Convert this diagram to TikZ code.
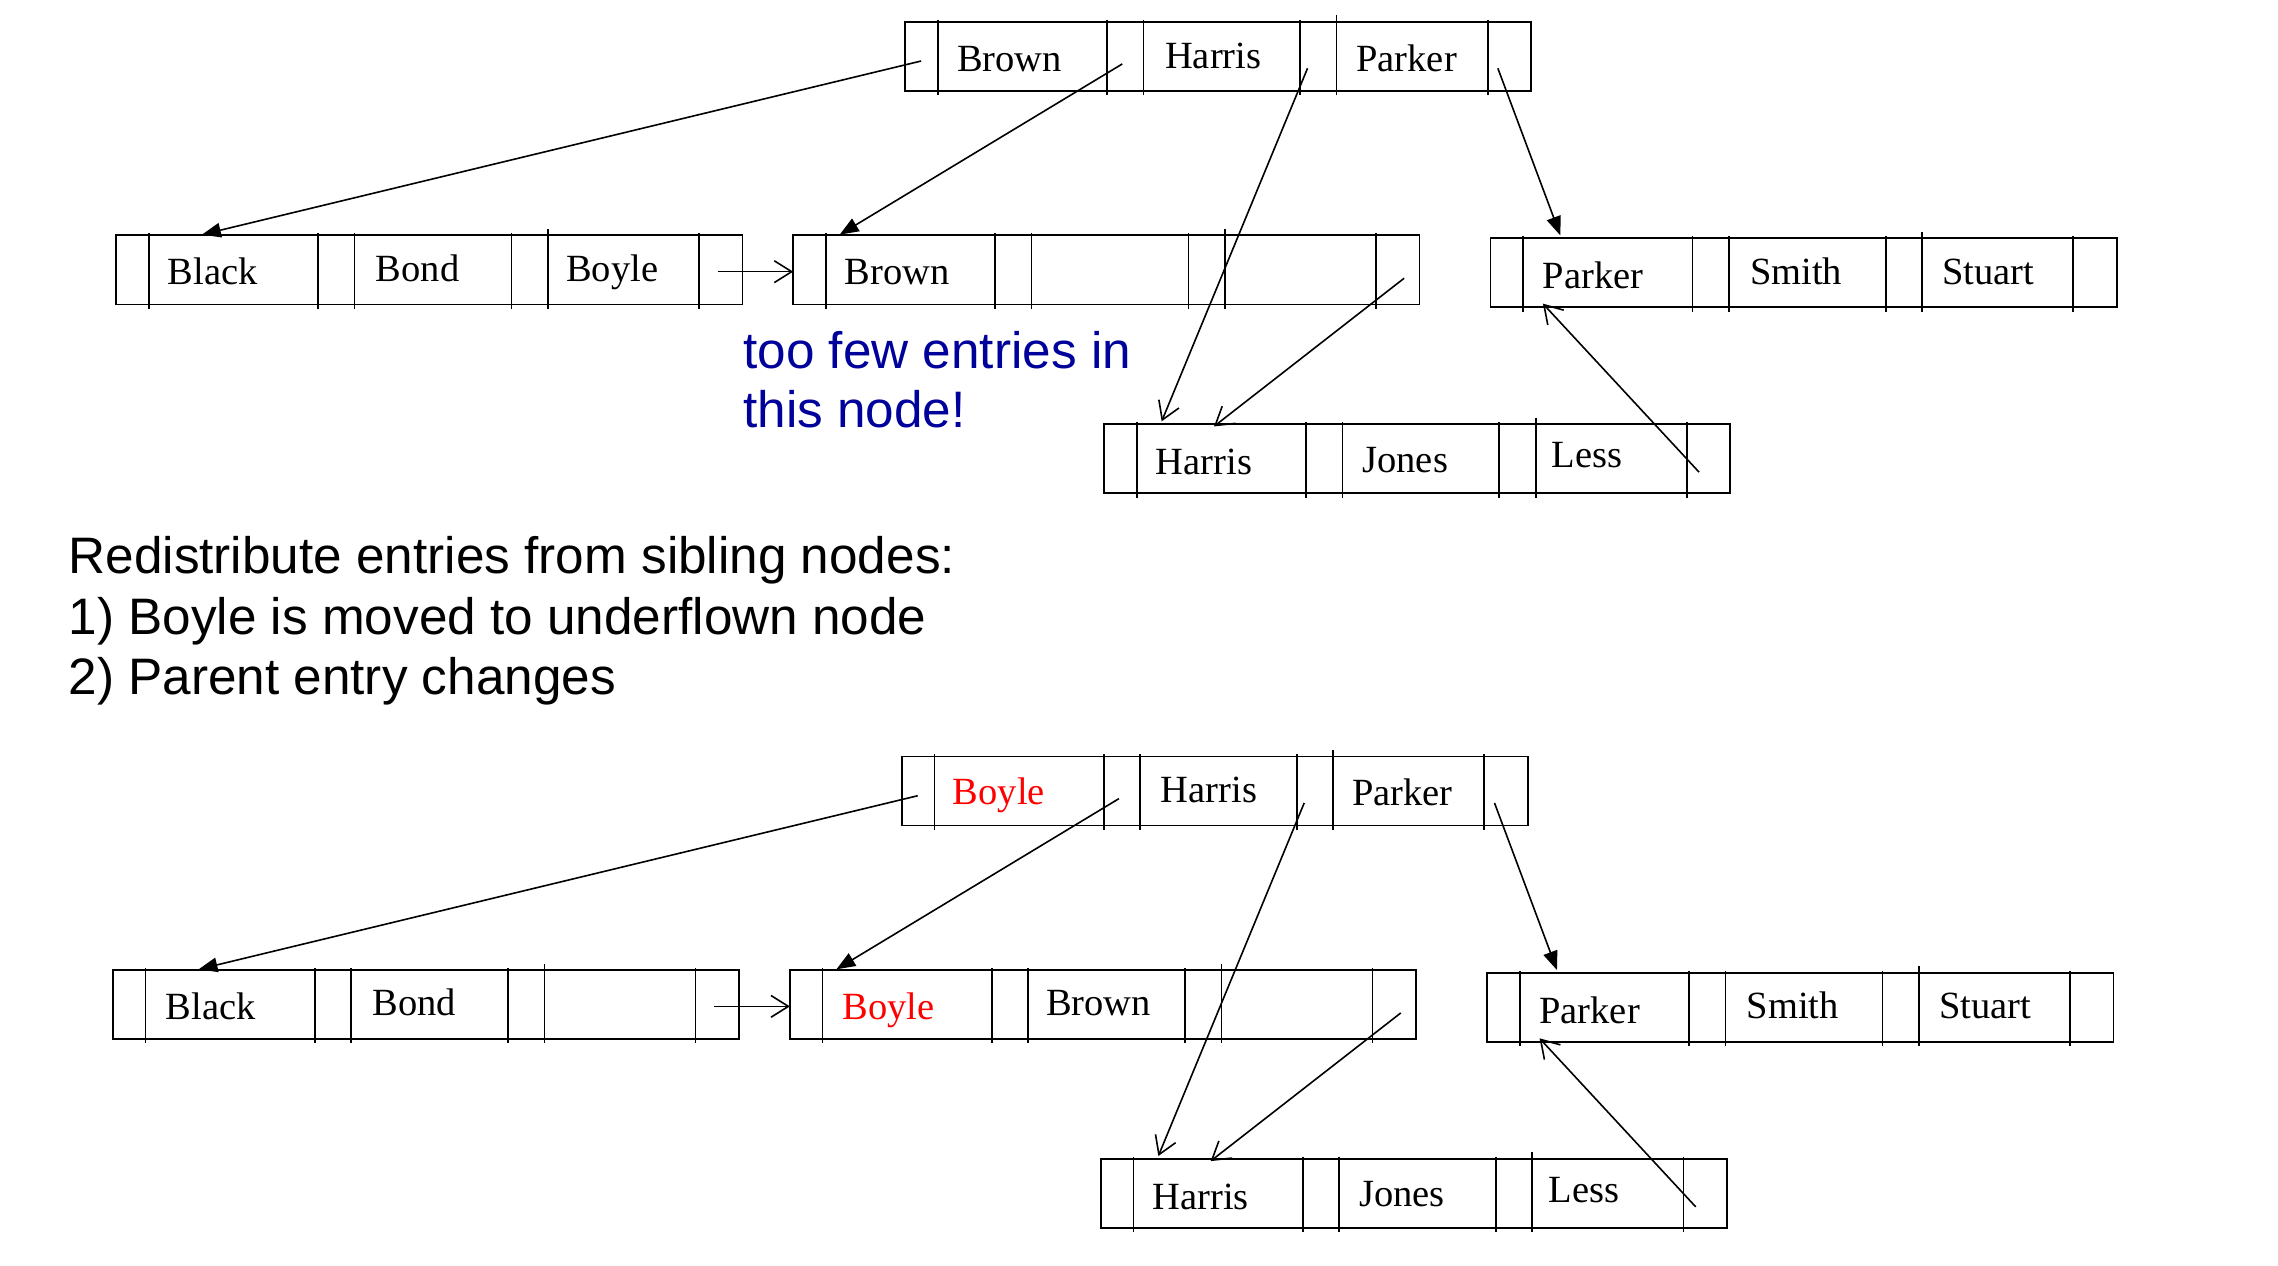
\documentclass[tikz,border=0pt]{standalone}
\usepackage{fontspec}
\setmainfont{Liberation Serif}
\newfontfamily\sansf{Liberation Sans}
\usetikzlibrary{arrows.meta}
\definecolor{notablue}{RGB}{0,0,155}
\definecolor{keyred}{RGB}{255,0,0}
\tikzset{
  btbox/.style={draw, line width=1.2pt, minimum width=431pt, minimum height=47.5pt, inner sep=0pt, outer sep=0pt, anchor=north west},
  divider/.style={line width=1.2pt},
  keytext/.style={anchor=base west, inner sep=0pt, font=\fontsize{26.5}{26.5}\selectfont},
  ptr/.style={line width=1.1pt, -{Triangle[length=13pt,width=10pt]}},
  chain/.style={line width=1.1pt, -{Straight Barb[length=12pt,width=15pt]}},
  note/.style={anchor=base west, inner sep=0pt, font=\sansf\fontsize{35.3}{41.5}\selectfont},
}
% box with pointer/key dividers: name, x (left), y (top)
\newcommand\btreebox[3]{%
  \node[btbox] (#1) at (#2,#3) {};
  \foreach \dx in {22.5,139,164,272,401}
    \draw[divider] (#2+\dx,#3-1.5) -- (#2+\dx,#3+50.5);
  \draw[divider] (#2+297,#3-4.5) -- (#2+297,#3+50.5);
}
\begin{document}
\begin{tikzpicture}[x=1pt,y=-1pt]
\useasboundingbox (0,0) rectangle (1568,871);

% ---------------- top tree ----------------
\btreebox{rootA}{623}{15}
\btreebox{blackA}{80}{162}
\btreebox{brownA}{546}{162}
\btreebox{parkerA}{1026}{164}
\btreebox{harrisA}{760}{292}

\node[keytext] (rootA-k1) at (658.6,49.3) {Brown};
\node[keytext] (rootA-k2) at (801.8,47.1) {Harris};
\node[keytext] (rootA-k3) at (933.4,49.3) {Parker};
\node[keytext] (blackA-k1) at (115.3,196) {Black};
\node[keytext] (blackA-k2) at (258.5,193.7) {Bond};
\node[keytext] (blackA-k3) at (389.5,193.7) {Boyle};
\node[keytext] (brownA-k1) at (581.4,196) {Brown};
\node[keytext] (parkerA-k1) at (1061.7,198.5) {Parker};
\node[keytext] (parkerA-k2) at (1204.5,195.5) {Smith};
\node[keytext] (parkerA-k3) at (1336.8,195.5) {Stuart};
\node[keytext] (harrisA-k1) at (795.4,326.7) {Harris};
\node[keytext] (harrisA-k2) at (937.6,325) {Jones};
\node[keytext] (harrisA-k3) at (1068,322) {Less};

\coordinate (rootA-p0) at (634,42);
\coordinate (rootA-p1) at (772.5,44);
\coordinate (rootA-p2) at (900,47);
\coordinate (rootA-p3) at (1031,47);
\coordinate (blackA-in) at (139,161.5);
\coordinate (blackA-next) at (494,187);
\coordinate (brownA-west) at (546,187);
\coordinate (brownA-in) at (578,161.5);
\coordinate (brownA-next) at (966.5,191.5);
\coordinate (parkerA-in) at (1074,162);
\coordinate (parkerA-back) at (1062,209);
\coordinate (harrisA-in) at (799.6,290);
\coordinate (harrisA-in2) at (835.6,293.5);
\coordinate (harrisA-next) at (1169.5,325);

\draw[ptr] (rootA-p0) -- (blackA-in);
\draw[ptr] (rootA-p1) -- (brownA-in);
\draw[chain] (rootA-p2) -- (harrisA-in);
\draw[ptr] (rootA-p3) -- (parkerA-in);
\draw[chain] (blackA-next) -- (brownA-west);
\draw[chain] (brownA-next) -- (harrisA-in2);
\draw[chain] (harrisA-next) -- (parkerA-back);

% ---------------- notes ----------------
\node[note, text=notablue] (warn1) at (511.5,253.5) {too few entries in};
\node[note, text=notablue] (warn2) at (511.5,294.5) {this node!};
\node[note] (expl1) at (47,395) {Redistribute entries from sibling nodes:};
\node[note] (expl2) at (47,436.5) {1) Boyle is moved to underflown node};
\node[note] (expl3) at (47,478) {2) Parent entry changes};

% ---------------- bottom tree ----------------
\begin{scope}[shift={(-2.3,505.7)}]
\btreebox{rootB}{623}{15}
\btreebox{blackB}{80}{162}
\btreebox{brownB}{546}{162}
\btreebox{parkerB}{1026}{164}
\btreebox{harrisB}{760}{292}

\node[keytext, text=keyred] (rootB-k1) at (658,48.3) {Boyle};
\node[keytext] (rootB-k2) at (801.2,46.9) {Harris};
\node[keytext] (rootB-k3) at (932.8,48.8) {Parker};
\node[keytext] (blackB-k1) at (116.3,195.7) {Black};
\node[keytext] (blackB-k2) at (258.6,193.3) {Bond};
\node[keytext, text=keyred] (brownB-k1) at (581.9,195.7) {Boyle};
\node[keytext] (brownB-k2) at (722.1,193.3) {Brown};
\node[keytext] (parkerB-k1) at (1061.7,198.5) {Parker};
\node[keytext] (parkerB-k2) at (1204.5,195.5) {Smith};
\node[keytext] (parkerB-k3) at (1336.8,195.5) {Stuart};
\node[keytext] (harrisB-k1) at (795.4,326.7) {Harris};
\node[keytext] (harrisB-k2) at (937.6,325) {Jones};
\node[keytext] (harrisB-k3) at (1068,322) {Less};

\coordinate (rootB-p0) at (634,42);
\coordinate (rootB-p1) at (772.5,44);
\coordinate (rootB-p2) at (900,47);
\coordinate (rootB-p3) at (1031,47);
\coordinate (blackB-in) at (139,161.5);
\coordinate (blackB-next) at (494,187);
\coordinate (brownB-west) at (546,187);
\coordinate (brownB-in) at (578,161.5);
\coordinate (brownB-next) at (966.5,191.5);
\coordinate (parkerB-in) at (1074,162);
\coordinate (parkerB-back) at (1062,209);
\coordinate (harrisB-in) at (799.6,290);
\coordinate (harrisB-in2) at (835.6,293.5);
\coordinate (harrisB-next) at (1169.5,325);

\draw[ptr] (rootB-p0) -- (blackB-in);
\draw[ptr] (rootB-p1) -- (brownB-in);
\draw[chain] (rootB-p2) -- (harrisB-in);
\draw[ptr] (rootB-p3) -- (parkerB-in);
\draw[chain] (blackB-next) -- (brownB-west);
\draw[chain] (brownB-next) -- (harrisB-in2);
\draw[chain] (harrisB-next) -- (parkerB-back);
\end{scope}
\end{tikzpicture}
\end{document}
